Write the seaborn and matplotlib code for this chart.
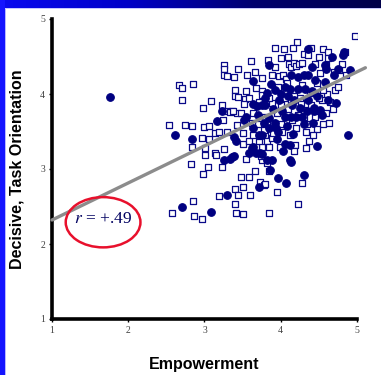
import numpy as np
import matplotlib
matplotlib.use("Agg")
import matplotlib.pyplot as plt
from matplotlib.patches import Ellipse, Rectangle
import seaborn as sns

# Respondents plotted as open squares
square_x = [3.61, 3.25, 3.25, 3.26, 3.29, 3.44, 3.39, 3.56, 2.66, 2.70, 2.85, 2.70, 3.09, 2.98, 3.23,
            3.40, 3.40, 3.44, 3.54, 3.53, 3.52, 3.67, 3.75, 3.76, 3.75, 3.36, 3.42, 3.48, 3.64,
            4.97, 4.21, 4.16, 3.92, 4.04, 4.56, 4.30, 4.36, 4.62, 4.50, 3.92, 4.11, 4.13, 4.17, 4.20,
            4.24, 4.28, 4.45, 4.59, 4.85, 4.51, 3.89, 3.98, 4.03, 4.07, 4.71, 4.61, 4.65, 4.54, 4.27,
            3.89, 4.00, 4.14, 4.30, 4.76, 4.84,
            2.54, 2.74, 2.83, 2.99, 3.06, 2.83, 2.97, 3.06, 3.14, 3.19, 3.24, 3.29, 3.33, 3.37, 3.42,
            3.30, 3.50, 3.50, 3.59, 3.01, 3.14, 3.26, 3.64, 3.71, 3.76, 3.76,
            3.01, 3.15, 2.82, 3.04, 3.23, 2.98, 3.55, 3.82, 3.48, 3.58, 3.66, 4.28, 3.73, 3.78, 3.51,
            3.40, 3.19, 3.44, 3.60, 3.95, 2.85, 3.40, 4.23, 2.86, 2.97, 3.41, 3.51, 3.85, 2.58,
            4.56, 4.63, 4.48, 4.37, 4.33, 4.19, 3.99, 4.17, 3.85, 3.79,
            3.80, 3.82, 3.85, 3.88, 3.90,
            3.80, 3.85, 3.95, 4.00, 4.05, 4.10, 4.15, 4.20, 4.25, 4.30, 4.35, 4.40, 4.45, 4.50, 3.70,
            3.72, 3.78, 3.90, 3.97, 4.02, 4.08, 4.12, 4.18, 4.22, 4.28, 4.33, 4.38, 4.42, 4.47, 4.55,
            4.60, 4.68, 4.75, 4.80, 3.68, 3.74, 3.62, 3.58, 3.66, 3.83, 4.00, 4.09, 4.40, 4.62, 4.70]
square_y = [4.44, 4.39, 4.33, 4.25, 4.24, 4.33, 4.23, 4.25, 4.12, 4.08, 4.13, 3.92, 3.91, 3.82, 3.85,
            4.06, 3.97, 3.96, 4.04, 3.93, 3.87, 4.08, 4.22, 4.04, 3.99, 3.77, 3.75, 3.75, 3.75,
            4.78, 4.69, 4.62, 4.61, 4.60, 4.60, 4.53, 4.52, 4.56, 4.50, 4.36, 4.40, 4.36, 4.42, 4.38,
            4.40, 4.41, 4.40, 4.39, 4.25, 4.28, 4.26, 4.24, 4.25, 4.20, 4.06, 4.00, 3.90, 3.92, 3.88,
            3.88, 3.85, 3.90, 3.79, 4.32, 4.56,
            3.59, 3.59, 3.57, 3.56, 3.57, 3.30, 3.41, 3.40, 3.48, 3.49, 3.65, 3.78, 3.76, 3.78, 3.59,
            3.49, 3.48, 3.33, 3.38, 3.28, 3.21, 3.27, 3.45, 3.36, 3.30, 3.12,
            3.19, 3.19, 3.07, 3.03, 3.03, 2.93, 3.13, 3.08, 2.90, 2.90, 2.98, 2.82, 2.83, 2.79, 2.76,
            2.73, 2.64, 2.66, 2.66, 2.69, 2.57, 2.53, 2.53, 2.38, 2.33, 2.42, 2.40, 2.42, 2.42,
            3.60, 3.61, 3.53, 3.37, 3.28, 3.32, 3.30, 3.24, 2.98, 2.80,
            3.45, 3.38, 3.30, 3.42, 3.48,
            3.70, 3.95, 3.75, 3.60, 3.95, 3.80, 3.65, 3.55, 3.95, 3.70, 3.60, 3.85, 3.70, 3.95, 3.60,
            3.90, 3.52, 3.62, 4.10, 3.50, 4.15, 3.45, 3.98, 3.72, 4.12, 3.50, 4.02, 3.45, 4.15, 4.05,
            3.75, 3.80, 4.10, 4.40, 3.30, 3.18, 3.62, 3.95, 4.30, 4.45, 4.48, 4.50, 4.62, 4.48, 4.30]

# Respondents plotted as filled circles
circle_x = [1.76,
            3.23, 3.63, 3.64, 3.69, 3.76,
            4.36, 4.83, 4.82, 4.67, 3.84, 4.41, 4.59, 4.75, 4.91, 4.70, 4.14, 4.23, 4.30, 4.36, 4.45,
            4.58, 3.87, 3.93, 4.06, 4.12, 4.23, 4.32, 4.41, 4.48, 4.72, 4.36, 4.43, 3.80, 3.80, 3.82,
            4.52, 4.58, 4.62, 4.54,
            2.61, 2.84, 3.17, 3.39, 3.25, 3.33, 3.36, 3.39, 3.58, 3.67, 3.29, 3.72, 2.71, 3.09, 3.62,
            3.71, 3.76, 3.76, 3.52, 3.55, 3.64, 3.41, 3.64,
            3.73, 3.88, 3.86, 4.13, 3.97, 4.07, 4.31,
            3.92, 3.94, 3.96, 4.05, 4.13, 4.20, 4.28, 4.44, 4.42, 4.88, 4.48, 4.16, 4.05, 4.12, 4.03,
            4.12, 3.82,
            3.85, 3.90, 3.98, 4.02, 4.08, 4.15, 4.18, 4.25, 4.30, 3.95, 4.00, 4.10, 3.85, 4.35, 3.70,
            3.78]
circle_y = [3.96,
            3.77, 4.17, 3.87, 3.84, 3.85,
            4.60, 4.56, 4.52, 4.50, 4.39, 4.36, 4.33, 4.33, 4.32, 4.25, 4.26, 4.23, 4.25, 4.26, 4.19,
            4.16, 4.13, 4.06, 4.09, 4.07, 4.07, 4.07, 4.04, 3.98, 3.88, 3.92, 3.81, 3.95, 3.85, 4.02,
            3.79, 4.39, 3.92, 3.72,
            3.46, 3.40, 3.64, 3.43, 3.12, 3.14, 3.16, 3.17, 3.21, 3.21, 2.65, 2.76, 2.50, 2.43, 3.28,
            3.45, 3.45, 3.20, 3.66, 3.70, 3.55, 3.38, 3.29,
            3.21, 3.12, 2.99, 3.09, 2.88, 2.82, 2.92,
            3.61, 3.55, 3.50, 3.70, 3.70, 3.70, 3.70, 3.77, 3.61, 3.46, 3.31, 3.47, 3.34, 3.32, 3.24,
            3.12, 3.12,
            3.55, 3.80, 3.92, 3.78, 3.58, 3.85, 3.92, 3.82, 3.60, 3.40, 4.00, 3.98, 3.68, 3.78, 3.72,
            3.62]

# Least-squares trend line end points
fit_x = [1.0, 5.11]
fit_y = [2.32, 4.35]

r_label = "$r$ = +.49"
x_ticks = [1, 2, 3, 4, 5]
y_ticks = [1, 2, 3, 4, 5]

sns.set_theme(style="white")
plt.rcParams["font.family"] = ["Liberation Sans", "DejaVu Sans"]
plt.rcParams["mathtext.fontset"] = "stix"

W, H = 381, 375
fig = plt.figure(figsize=(W / 100, H / 100), dpi=100)
fig.patch.set_facecolor("white")

# Slide frame: gradient bar on top, blue strip down the left side
bar = fig.add_axes([0, 1 - 8 / H, 1, 8 / H])
grad = np.linspace(0, 1, 256)[None, :]
cmap = matplotlib.colors.LinearSegmentedColormap.from_list(
    "frame", ["#0a0af0", "#0000c8", "#000070", "#00004a"])
bar.imshow(grad, aspect="auto", cmap=cmap, extent=[0, 1, 0, 1])
bar.set_axis_off()
fig.patches.append(Rectangle((0, 0), 5 / W, 1, transform=fig.transFigure,
                             facecolor="#1414ff", edgecolor="none", zorder=0))
fig.patches.append(Rectangle((5 / W, 0), 1.2 / W, 1 - 8 / H, transform=fig.transFigure,
                             facecolor="#b8b8ff", edgecolor="none", zorder=0))
fig.patches.append(Rectangle((5 / W, 1 - 9.2 / H), 1 - 5 / W, 1.2 / H, transform=fig.transFigure,
                             facecolor="#c8c8ff", edgecolor="none", zorder=0))

ax = fig.add_axes([52 / W, 56 / H, 305 / W, 300 / H])
ax.set_facecolor("white")

sns.scatterplot(x=square_x, y=square_y, marker="s", s=14, facecolor="white",
                edgecolor="#0a0a88", linewidth=0.9, ax=ax, zorder=3)
sns.scatterplot(x=circle_x, y=circle_y, marker="o", s=30, color="#000080",
                edgecolor="#000080", linewidth=0.8, ax=ax, zorder=4)
sns.lineplot(x=fit_x, y=fit_y, color="#8c8c8c", linewidth=2.4, ax=ax, zorder=5,
             clip_on=False, estimator=None, sort=False)

ax.add_patch(Ellipse((1.67, 2.29), 0.98, 0.67, fill=False, edgecolor="#e8102c",
                     linewidth=1.8, zorder=6, clip_on=False))
ax.text(1.67, 2.33, r_label, ha="center", va="center", fontsize=12.5,
        family="Liberation Serif", color="#000060", zorder=7)

ax.set_xlim(1, 5)
ax.set_ylim(1, 5)
ax.set_xticks(x_ticks)
ax.set_yticks(y_ticks)
ax.set_xticklabels([str(t) for t in x_ticks], family="Liberation Serif", fontsize=7,
                   color="#404040")
ax.set_yticklabels([str(t) for t in y_ticks], family="Liberation Serif", fontsize=7,
                   color="#404040")
ax.tick_params(axis="both", length=2, width=1, color="black", pad=3, bottom=True, left=True)

for side in ("top", "right"):
    ax.spines[side].set_visible(False)
for side in ("left", "bottom"):
    ax.spines[side].set_linewidth(2.6)
    ax.spines[side].set_color("black")

ax.set_xlabel("Empowerment", fontsize=11.5, fontweight="bold", color="black", labelpad=16)
ax.set_ylabel("Decisive, Task Orientation", fontsize=11.5, fontweight="bold", color="black",
              labelpad=11)
ax.grid(False)

fig.savefig("out.png", dpi=100, facecolor="white")
